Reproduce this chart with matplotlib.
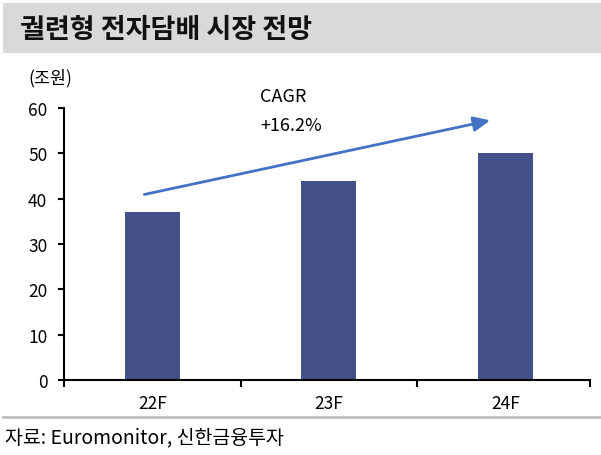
import matplotlib.pyplot as plt
from matplotlib.patches import Rectangle
from matplotlib.lines import Line2D

plt.rcParams['font.family'] = ['Noto Sans CJK KR', 'DejaVu Sans']

categories = ['22F', '23F', '24F']
values = [37, 44, 50]
yticks = [0, 10, 20, 30, 40, 50, 60]

title = '궐련형 전자담배 시장 전망'
unit = '(조원)'
source = '자료: Euromonitor, 신한금융투자'
cagr_text = 'CAGR\n+16.2%'

fig = plt.figure(figsize=(6.01, 4.56), dpi=100)

# gray title bar
fig.patches.append(Rectangle((3 / 601, 1 - 54 / 456), 598 / 601, 50 / 456,
                             transform=fig.transFigure, facecolor='#d9d9d9',
                             edgecolor='none', zorder=0))
fig.text(20 / 601, 1 - 30 / 456, title, fontsize=19.5, fontweight='bold',
         va='center', ha='left', color='#111111')

ax = fig.add_axes([64 / 601, 75 / 456, 526 / 601, 272 / 456])
x = range(len(categories))
ax.bar(x, values, width=0.31, color='#445089')
ax.set_xlim(-0.5, 2.48)
ax.set_ylim(0, 60)
ax.set_yticks(yticks)
ax.set_xticks([-0.5, 0.5, 1.5, 2.48])
ax.set_xticklabels([])
ax.set_xticks(list(x), minor=True)
ax.set_xticklabels(categories, minor=True)
ax.tick_params(axis='x', which='minor', length=0, pad=10, labelsize=12.5)
ax.tick_params(axis='x', which='major', length=5, width=1.5, direction='out')
ax.tick_params(axis='y', length=4, width=1.5, labelsize=12.5, pad=8)
for s in ['top', 'right']:
    ax.spines[s].set_visible(False)
for s in ['left', 'bottom']:
    ax.spines[s].set_linewidth(1.5)

ax.annotate('', xy=(1.93, 57.4), xytext=(-0.06, 40.8),
            arrowprops=dict(arrowstyle='-|>,head_length=1.0,head_width=0.45',
                            color='#4472c4', lw=2))
ax.text(0.61, 59.5, cagr_text, fontsize=13, ha='left', va='center',
        linespacing=1.75)

fig.text(28 / 601, 1 - 78 / 456, unit, fontsize=12.5, ha='left', va='center')

fig.lines.append(Line2D([3 / 601, 1], [1 - 418 / 456] * 2,
                        transform=fig.transFigure, color='#bfbfbf', lw=2))
fig.text(5 / 601, 1 - 438 / 456, source, fontsize=14, ha='left', va='center')

fig.savefig('out.png', dpi=100)
